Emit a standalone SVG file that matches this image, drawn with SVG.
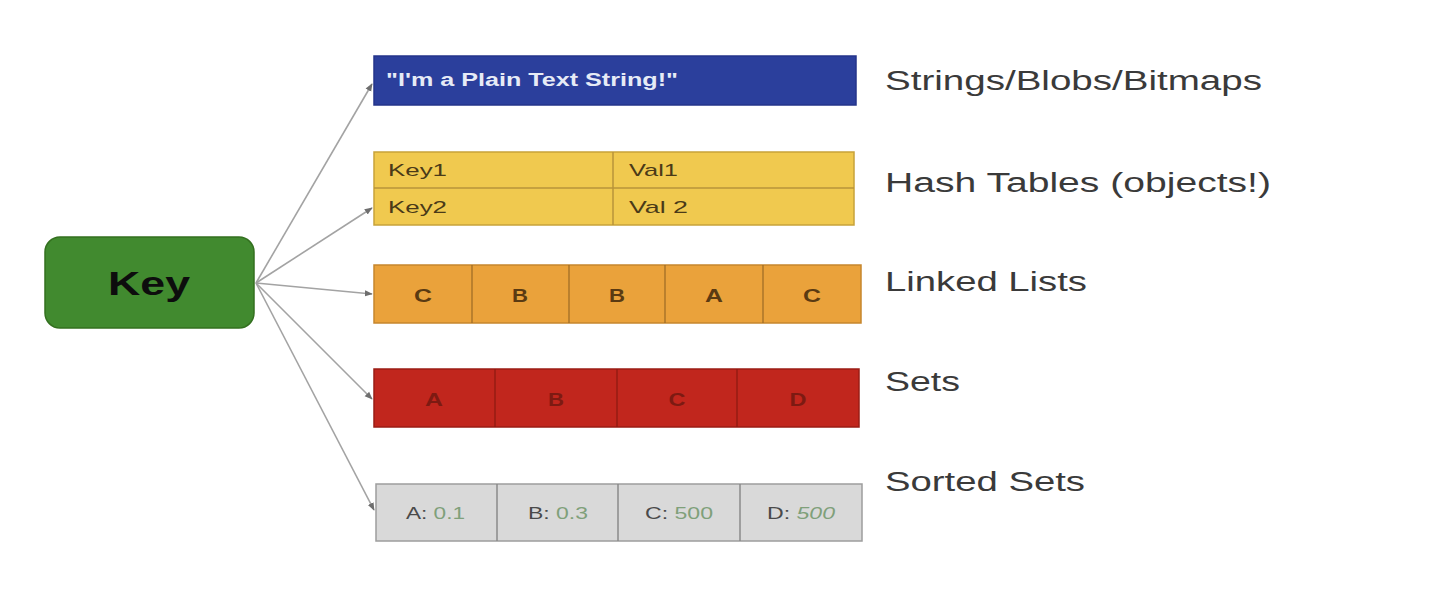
<svg xmlns="http://www.w3.org/2000/svg" width="1438" height="606" viewBox="0 0 1438 606">
<style>
  text { font-family: "Liberation Sans", Arial, sans-serif; }
  .lbl { font-size: 27px; fill: #3a3a3a; }
  .conn { stroke: #a3a3a3; stroke-width: 1.6; fill: none; marker-end: url(#ah); }
  .hash { fill: #f0c94f; stroke: #c7a23a; stroke-width: 1.5; }
  .hdiv { stroke: #b8933a; stroke-width: 1.5; }
  .htxt { font-size: 17px; fill: #4a3a18; }
  .ll { fill: #eaa23b; stroke: #c6862e; stroke-width: 1.5; }
  .lldiv { stroke: #9a6a26; stroke-width: 1.2; }
  .lltxt { font-size: 19px; font-weight: bold; fill: #5a3a12; text-anchor: middle; }
  .set { fill: #c1261d; stroke: #9a1d15; stroke-width: 1.5; }
  .setdiv { stroke: #8a1a12; stroke-width: 1.2; }
  .settxt { font-size: 19px; font-weight: bold; fill: #7d1a12; text-anchor: middle; }
  .ss { fill: #d9d9d9; stroke: #9d9d9d; stroke-width: 1.5; }
  .ssdiv { stroke: #8a8a8a; stroke-width: 1.5; }
  .sstxt { font-size: 17px; fill: #4a4a4a; }
  .num { fill: #7fa07a; }
</style>
<defs>
  <marker id="ah" viewBox="0 0 10 10" refX="9" refY="5" markerWidth="5" markerHeight="5" orient="auto" markerUnits="strokeWidth">
    <path d="M0,1 L10,5 L0,9 z" fill="#6e6e6e"/>
  </marker>
</defs>
<rect x="0" y="0" width="1438" height="606" fill="#ffffff"/>

<g id="connectors">
  <line class="conn" x1="256" y1="283" x2="372" y2="84"/>
  <line class="conn" x1="256" y1="283" x2="372" y2="208"/>
  <line class="conn" x1="256" y1="283" x2="372" y2="294"/>
  <line class="conn" x1="256" y1="283" x2="372" y2="399"/>
  <line class="conn" x1="256" y1="283" x2="374" y2="510"/>
</g>

<g id="key">
  <rect x="45" y="237" width="209" height="91" rx="15" ry="15" fill="#418a2f" stroke="#33701f" stroke-width="1.5"/>
  <text x="108" y="295" font-size="33" font-weight="bold" fill="#0d0d0d" textLength="82" lengthAdjust="spacingAndGlyphs">Key</text>
</g>

<g id="strings">
  <rect x="374" y="56" width="482" height="49" fill="#2b3f9c" stroke="#24358a" stroke-width="1.5"/>
  <text x="386" y="86" font-size="18" font-weight="bold" fill="#e6ebf6" textLength="292" lengthAdjust="spacingAndGlyphs">"I'm a Plain Text String!"</text>
</g>

<g id="hash">
  <rect class="hash" x="374" y="152" width="480" height="73"/>
  <line class="hdiv" x1="374" y1="188" x2="854" y2="188"/>
  <line class="hdiv" x1="613" y1="152" x2="613" y2="225"/>
  <text class="htxt" x="388" y="176" textLength="59" lengthAdjust="spacingAndGlyphs">Key1</text>
  <text class="htxt" x="388" y="213" textLength="59" lengthAdjust="spacingAndGlyphs">Key2</text>
  <text class="htxt" x="629" y="176" textLength="49" lengthAdjust="spacingAndGlyphs">Val1</text>
  <text class="htxt" x="629" y="213" textLength="59" lengthAdjust="spacingAndGlyphs">Val 2</text>
</g>

<g id="linkedlist">
  <rect class="ll" x="374" y="265" width="487" height="58"/>
  <line class="lldiv" x1="472" y1="265" x2="472" y2="323"/>
  <line class="lldiv" x1="569" y1="265" x2="569" y2="323"/>
  <line class="lldiv" x1="665" y1="265" x2="665" y2="323"/>
  <line class="lldiv" x1="763" y1="265" x2="763" y2="323"/>
  <text class="lltxt" x="423" y="302" textLength="18" lengthAdjust="spacingAndGlyphs">C</text>
  <text class="lltxt" x="520" y="302" textLength="16" lengthAdjust="spacingAndGlyphs">B</text>
  <text class="lltxt" x="617" y="302" textLength="16" lengthAdjust="spacingAndGlyphs">B</text>
  <text class="lltxt" x="714" y="302" textLength="18" lengthAdjust="spacingAndGlyphs">A</text>
  <text class="lltxt" x="812" y="302" textLength="18" lengthAdjust="spacingAndGlyphs">C</text>
</g>

<g id="sets">
  <rect class="set" x="374" y="369" width="485" height="58"/>
  <line class="setdiv" x1="495" y1="369" x2="495" y2="427"/>
  <line class="setdiv" x1="617" y1="369" x2="617" y2="427"/>
  <line class="setdiv" x1="737" y1="369" x2="737" y2="427"/>
  <text class="settxt" x="434" y="406" textLength="18" lengthAdjust="spacingAndGlyphs">A</text>
  <text class="settxt" x="556" y="406" textLength="16" lengthAdjust="spacingAndGlyphs">B</text>
  <text class="settxt" x="677" y="406" textLength="17" lengthAdjust="spacingAndGlyphs">C</text>
  <text class="settxt" x="798" y="406" textLength="17" lengthAdjust="spacingAndGlyphs">D</text>
</g>

<g id="sortedsets">
  <rect class="ss" x="376" y="484" width="486" height="57"/>
  <line class="ssdiv" x1="497" y1="484" x2="497" y2="541"/>
  <line class="ssdiv" x1="618" y1="484" x2="618" y2="541"/>
  <line class="ssdiv" x1="740" y1="484" x2="740" y2="541"/>
  <text class="sstxt" x="406" y="519" textLength="59" lengthAdjust="spacingAndGlyphs">A: <tspan class="num">0.1</tspan></text>
  <text class="sstxt" x="528" y="519" textLength="60" lengthAdjust="spacingAndGlyphs">B: <tspan class="num">0.3</tspan></text>
  <text class="sstxt" x="645" y="519" textLength="68" lengthAdjust="spacingAndGlyphs">C: <tspan class="num">500</tspan></text>
  <text class="sstxt" x="767" y="519" textLength="68" lengthAdjust="spacingAndGlyphs">D: <tspan class="num" font-style="italic">500</tspan></text>
</g>

<g id="labels">
  <text class="lbl" x="885" y="90" textLength="377" lengthAdjust="spacingAndGlyphs">Strings/Blobs/Bitmaps</text>
  <text class="lbl" x="885" y="192" textLength="386" lengthAdjust="spacingAndGlyphs">Hash Tables (objects!)</text>
  <text class="lbl" x="885" y="291" textLength="202" lengthAdjust="spacingAndGlyphs">Linked Lists</text>
  <text class="lbl" x="885" y="391" textLength="75" lengthAdjust="spacingAndGlyphs">Sets</text>
  <text class="lbl" x="885" y="491" textLength="200" lengthAdjust="spacingAndGlyphs">Sorted Sets</text>
</g>
</svg>
